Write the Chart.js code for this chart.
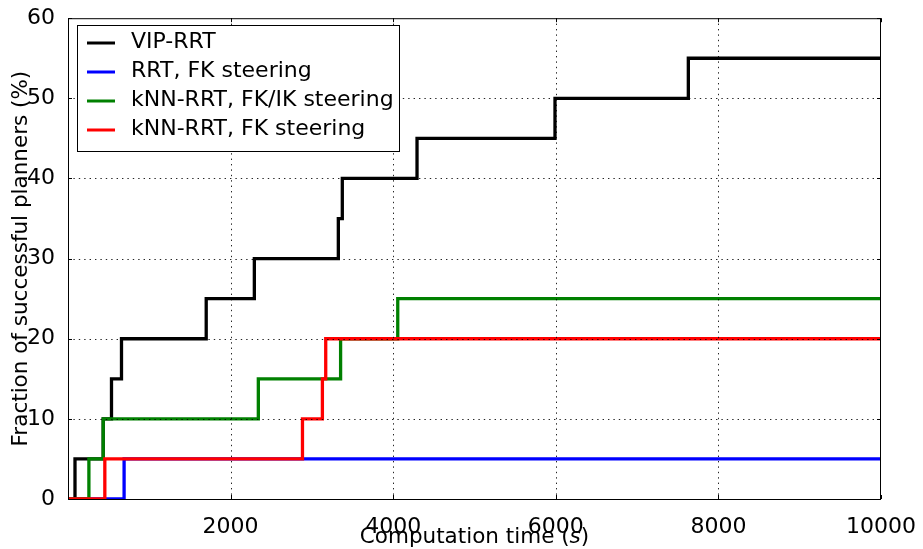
<!DOCTYPE html>
<html>
<head>
<meta charset="utf-8">
<script src="https://cdn.jsdelivr.net/npm/chart.js@4/dist/chart.umd.min.js"></script>
<style>
  html, body { margin: 0; padding: 0; background: #fff; }
  #wrap { width: 923px; height: 549px; }
</style>
</head>
<body>
<div id="wrap"><canvas id="plot"></canvas></div>
<script>
// step data (x = seconds, y = % successful)
const vipX = [0, 86, 433, 535, 658, 1700, 2292, 3325, 3374, 4293, 5990, 7630, 10000];
const vipY = [0, 5, 10, 15, 20, 25, 30, 35, 40, 45, 50, 55, 55];

const rrtX = [0, 690, 10000];
const rrtY = [0, 5, 5];

const knnIkX = [0, 257, 433, 2341, 3353, 4056, 10000];
const knnIkY = [0, 5, 10, 15, 20, 25, 25];

const knnFkX = [0, 453, 2884, 3129, 3170, 10000];
const knnFkY = [0, 5, 10, 15, 20, 20];

const xTicks = [0, 2000, 4000, 6000, 8000, 10000];
const yTicks = [0, 10, 20, 30, 40, 50, 60];

const pts = (xs, ys) => xs.map((x, i) => ({x: x, y: ys[i]}));

const FONT = "'DejaVu Sans', sans-serif";

// dotted grid on top of the lines, frame with inward ticks, x title, boxed legend
const decorations = {
    id: 'decorations',
    afterDraw(chart) {
        const ctx = chart.ctx;
        const a = chart.chartArea;
        const xs = chart.scales.x, ys = chart.scales.y;
        ctx.save();

        // grid
        ctx.strokeStyle = 'rgba(0,0,0,0.85)';
        ctx.lineWidth = 1;
        ctx.setLineDash([1.4, 4]);
        ctx.beginPath();
        xTicks.slice(1, -1).forEach(t => {
            const px = Math.round(xs.getPixelForValue(t)) + 0.5;
            ctx.moveTo(px, a.top); ctx.lineTo(px, a.bottom);
        });
        yTicks.slice(1, -1).forEach(t => {
            const py = Math.round(ys.getPixelForValue(t)) + 0.5;
            ctx.moveTo(a.left, py); ctx.lineTo(a.right, py);
        });
        ctx.stroke();
        ctx.setLineDash([]);

        // frame + inward ticks
        ctx.strokeStyle = '#000';
        ctx.strokeRect(a.left + 0.5, a.top + 0.5, a.right - a.left - 1, a.bottom - a.top);
        ctx.beginPath();
        xTicks.forEach(t => {
            const px = Math.round(xs.getPixelForValue(t)) + 0.5;
            ctx.moveTo(px, a.bottom); ctx.lineTo(px, a.bottom - 4);
            ctx.moveTo(px, a.top); ctx.lineTo(px, a.top + 4);
        });
        yTicks.forEach(t => {
            const py = Math.round(ys.getPixelForValue(t)) + 0.5;
            ctx.moveTo(a.left, py); ctx.lineTo(a.left + 4, py);
            ctx.moveTo(a.right, py); ctx.lineTo(a.right - 4, py);
        });
        ctx.stroke();

        // x axis title with italic s
        const p1 = 'Computation time (', p2 = 's', p3 = ')';
        const reg = '21.5px ' + FONT, ita = 'italic 21.5px ' + FONT;
        ctx.font = reg; const w1 = ctx.measureText(p1).width, w3 = ctx.measureText(p3).width;
        ctx.font = ita; const w2 = ctx.measureText(p2).width;
        let tx = (a.left + a.right) / 2 - (w1 + w2 + w3) / 2;
        const ty = 537;
        ctx.fillStyle = '#000';
        ctx.textBaseline = 'middle';
        ctx.textAlign = 'left';
        ctx.font = reg; ctx.fillText(p1, tx, ty); tx += w1;
        ctx.font = ita; ctx.fillText(p2, tx, ty); tx += w2;
        ctx.font = reg; ctx.fillText(p3, tx, ty);

        // legend box
        const bx = 77, by = 25, bw = 322, bh = 126;
        ctx.fillStyle = '#fff';
        ctx.fillRect(bx, by, bw, bh);
        ctx.strokeStyle = '#000';
        ctx.lineWidth = 1;
        ctx.strokeRect(bx + 0.5, by + 0.5, bw, bh);
        const items = chart.data.datasets.slice().reverse();
        ctx.font = '22px ' + FONT;
        items.forEach((ds, i) => {
            const y = 43 + i * 29;
            ctx.strokeStyle = ds.borderColor;
            ctx.lineWidth = 3;
            ctx.beginPath();
            ctx.moveTo(87, y); ctx.lineTo(115, y);
            ctx.stroke();
            ctx.fillStyle = '#000';
            ctx.fillText(ds.label, 131, y - 1);
        });
        ctx.restore();
    }
};

const lineDs = (label, data, color) => ({
    label: label,
    data: data,
    borderColor: color,
    backgroundColor: color,
    borderWidth: 3.3,
    stepped: 'before',
    pointRadius: 0,
    fill: false
});

new Chart(document.getElementById('plot'), {
    type: 'line',
    data: {
        // red drawn on top, black at the bottom (first dataset is painted last)
        datasets: [
            lineDs('kNN-RRT, FK steering', pts(knnFkX, knnFkY), '#ff0000'),
            lineDs('kNN-RRT, FK/IK steering', pts(knnIkX, knnIkY), '#008000'),
            lineDs('RRT, FK steering', pts(rrtX, rrtY), '#0000ff'),
            lineDs('VIP-RRT', pts(vipX, vipY), '#000000')
        ]
    },
    options: {
        responsive: true,
        maintainAspectRatio: false,
        animation: false,
        layout: { padding: { top: 16, right: 39, left: 0, bottom: 0 } },
        plugins: {
            legend: { display: false },
            tooltip: { enabled: false }
        },
        scales: {
            x: {
                type: 'linear',
                min: 0,
                max: 10000,
                afterFit: s => { s.height = 50; },
                afterBuildTicks: s => { s.ticks = xTicks.map(v => ({value: v})); },
                grid: { display: false },
                border: { display: false },
                ticks: {
                    padding: 7,
                    color: '#000',
                    font: { family: FONT, size: 22 },
                    callback: v => (v === 0 ? '' : v)
                },
                title: { display: false }
            },
            y: {
                min: 0,
                max: 60,
                afterFit: s => { s.width = 68; },
                afterBuildTicks: s => { s.ticks = yTicks.map(v => ({value: v})); },
                grid: { display: false },
                border: { display: false },
                ticks: {
                    padding: 5,
                    color: '#000',
                    font: { family: FONT, size: 22 }
                },
                title: {
                    display: true,
                    text: 'Fraction of successful planners (%)',
                    color: '#000',
                    font: { family: FONT, size: 21.5 },
                    padding: { top: 9, bottom: 0 }
                }
            }
        }
    },
    plugins: [decorations]
});
</script>
</body>
</html>
